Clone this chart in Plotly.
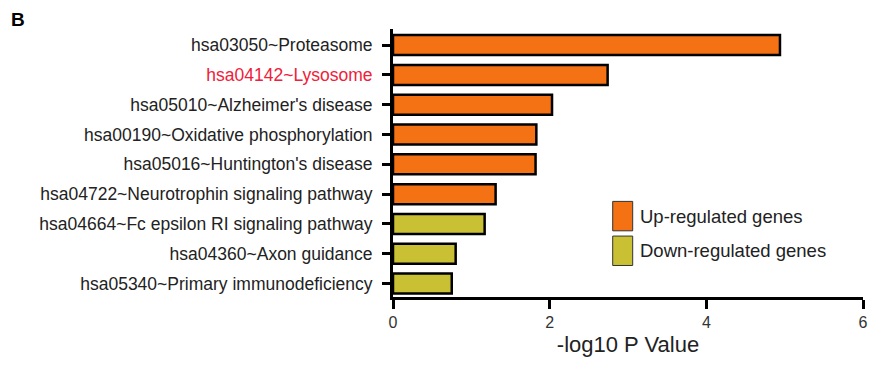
import plotly.graph_objects as go

categories = [
    "hsa03050~Proteasome",
    "hsa04142~Lysosome",
    "hsa05010~Alzheimer's disease",
    "hsa00190~Oxidative phosphorylation",
    "hsa05016~Huntington's disease",
    "hsa04722~Neurotrophin signaling pathway",
    "hsa04664~Fc epsilon RI signaling pathway",
    "hsa04360~Axon guidance",
    "hsa05340~Primary immunodeficiency",
]
values = [4.94, 2.74, 2.03, 1.83, 1.82, 1.31, 1.17, 0.80, 0.75]
groups = ["up"] * 6 + ["down"] * 3
highlight = "hsa04142~Lysosome"
x_ticks = [0, 2, 4, 6]
legend_labels = ["Up-regulated genes", "Down-regulated genes"]

ORANGE = "#F47114"
OLIVE = "#C9C133"
FONT = "Liberation Sans, Arial, Helvetica, sans-serif"

# page body has an 8px margin; compensate so the plot lands where the reference has it
OFF = 8
W, H = 893 - OFF, 366 - OFF
PL, PR, PT, PB = 393, 863, 29, 299.5  # plot area in page pixels
PW, PH = PR - PL, PB - PT

fig = go.Figure()
for g, col, name in [("up", ORANGE, legend_labels[0]), ("down", OLIVE, legend_labels[1])]:
    ys = [c for c, gg in zip(categories, groups) if gg == g]
    xs = [v for v, gg in zip(values, groups) if gg == g]
    fig.add_trace(go.Bar(
        x=xs, y=ys, orientation="h", name=name, width=0.67,
        marker=dict(color=col, line=dict(color="black", width=2.5)),
        showlegend=False,
    ))

order = list(reversed(categories))
ticktext = [
    f"<span style='color:#F0203A'>{c}</span>" if c == highlight else c
    for c in order
]

fig.update_layout(
    width=W, height=H,
    margin=dict(l=PL - OFF, r=893 - PR, t=PT - OFF, b=366 - PB),
    paper_bgcolor="white", plot_bgcolor="white",
    font=dict(family=FONT, color="#222222"),
    xaxis=dict(
        range=[0, 6], tickvals=x_ticks, showgrid=False, zeroline=False,
        showline=True, linecolor="black", linewidth=3,
        ticks="outside", ticklen=9, tickwidth=3, tickcolor="black",
        ticklabelstandoff=0,
        tickfont=dict(size=16, color="#333333"),
        title=dict(text="-log10 P Value", font=dict(size=22, color="#222222"), standoff=7),
    ),
    yaxis=dict(
        type="category", categoryorder="array", categoryarray=order,
        tickvals=order, ticktext=ticktext,
        range=[-0.45, 8.54], showgrid=False, zeroline=False,
        showline=True, linecolor="black", linewidth=3,
        ticks="outside", ticklen=8, tickwidth=3, tickcolor="black",
        ticklabelstandoff=6,
        tickfont=dict(size=17.5, color="#222222"),
    ),
)

def px(xp):
    return (xp - PL) / PW

def py(yp):
    return (PB - yp) / PH

# Legend drawn manually (large swatches)
legend_cols = [ORANGE, OLIVE]
box_px = [(203, 232.7), (238, 267.7)]
for (top, bot), col, lab in zip(box_px, legend_cols, legend_labels):
    fig.add_shape(type="rect", xref="paper", yref="paper",
                  x0=px(612.7), x1=px(632.7), y0=py(bot), y1=py(top),
                  fillcolor=col, line=dict(color="#333333", width=1))
    fig.add_annotation(xref="paper", yref="paper", x=px(638), y=py((top + bot) / 2),
                       text=lab, showarrow=False, xanchor="left", yanchor="middle",
                       font=dict(size=18.5, color="#222222", family=FONT))

fig.add_annotation(xref="paper", yref="paper", x=px(9), y=py(19),
                   text="<b>B</b>", showarrow=False, xanchor="left", yanchor="middle",
                   font=dict(size=19, color="black", family=FONT))

fig.write_html("out.html")
